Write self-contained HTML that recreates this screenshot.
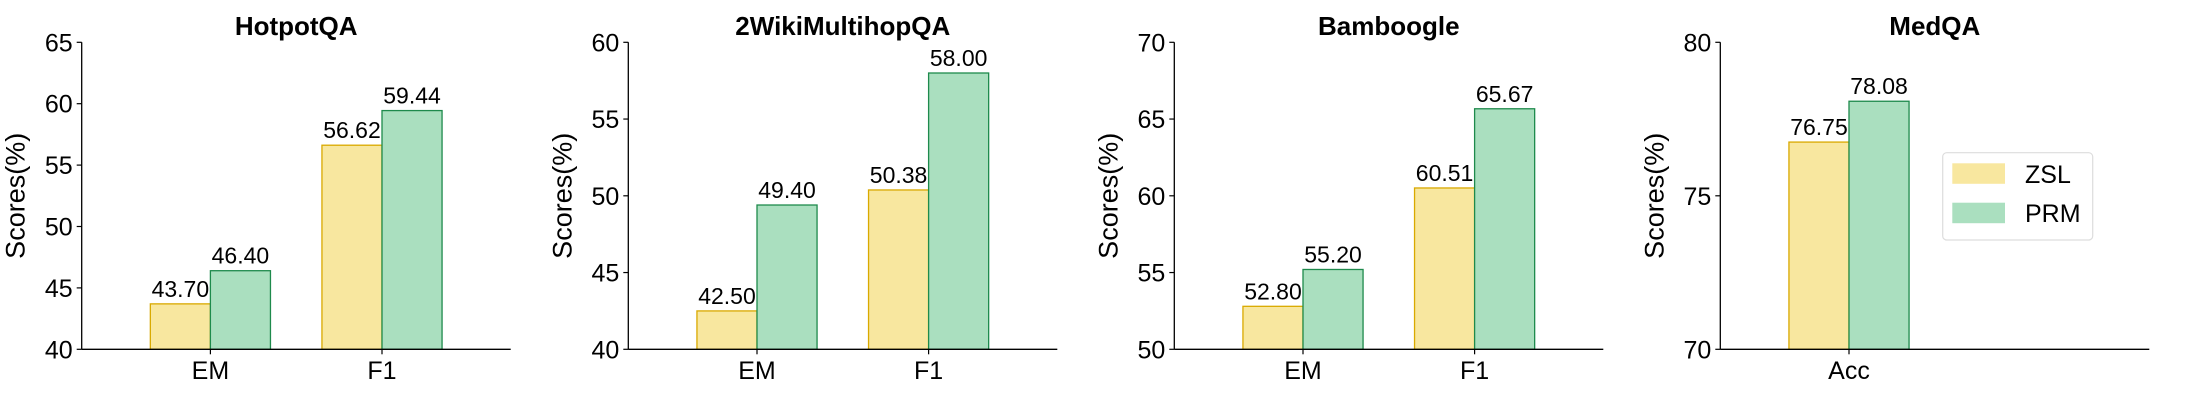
<!DOCTYPE html>
<html><head><meta charset="utf-8"><style>
html,body{margin:0;padding:0;background:#fff;}
svg{display:block;font-family:"Liberation Sans",Arial,sans-serif;}
</style></head><body>
<svg id="chart" width="2200" height="400" viewBox="0 0 2200 400" xmlns="http://www.w3.org/2000/svg"></svg>
<script>
const titles = ["HotpotQA","2WikiMultihopQA","Bamboogle","MedQA"];
const categories = [["EM","F1"],["EM","F1"],["EM","F1"],["Acc"]];
const zslValues = [[43.70,56.62],[42.50,50.38],[52.80,60.51],[76.75]];
const prmValues = [[46.40,59.44],[49.40,58.00],[55.20,65.67],[78.08]];
const yMins = [40,40,50,70];
const yMaxs = [65,60,70,80];
const yTicks = [[40,45,50,55,60,65],[40,45,50,55,60],[50,55,60,65,70],[70,75,80]];
const seriesNames = ["ZSL","PRM"];

(function(){
const NS="http://www.w3.org/2000/svg";
const svg=document.getElementById('chart');
function mk(tag,attrs,parent){const e=document.createElementNS(NS,tag);for(const k in attrs)e.setAttribute(k,attrs[k]);(parent||svg).appendChild(e);return e;}
const axLefts=[81.7,628.3,1174.3,1720.3];
const axW=429, axTop=42.3, axBottom=349.3;
const fills=["#F8E79F","#AADFBF"], strokes=["#D9A900","#1E8A4C"];
const bw=0.35;
for(let p=0;p<4;p++){
  const L=axLefts[p];
  const g=mk('g',{});
  
  
  const x=v=>L+(v+0.75)/2.5*axW;
  const y=v=>axBottom-(v-yMins[p])/(yMaxs[p]-yMins[p])*(axBottom-axTop);
  const t=mk('text',{x:L+axW/2,y:35,'text-anchor':'middle','font-size':26,'font-weight':'bold',fill:'#000'},g);
  t.textContent=titles[p];
  
  
  const yl=mk('text',{x:0,y:0,'text-anchor':'middle','font-size':27,fill:'#000',transform:`translate(${L-57},${(axTop+axBottom)/2}) rotate(-90)`},g);
  yl.textContent="Scores(%)";
  
  
  const series=[zslValues[p],prmValues[p]];
  for(let s=0;s<2;s++){
    for(let i=0;i<categories[p].length;i++){
      const v=series[s][i];
      const cx=i+(s===0?-bw/2:bw/2);
      const x0=x(cx-bw/2), x1=x(cx+bw/2);
      const r=mk('rect',{x:x0,y:y(v),width:x1-x0,height:axBottom-y(v),fill:fills[s],stroke:strokes[s],'stroke-width':1.3},g);
      
      
      const lt=mk('text',{x:(x0+x1)/2,y:y(v)-7,'text-anchor':'middle','font-size':23,fill:'#000'},g);
      lt.textContent=v.toFixed(2);
      
      
    }
  }
  const ya=mk('line',{x1:L,y1:axTop,x2:L,y2:axBottom,stroke:'#000','stroke-width':1.3},g);
  
  
  const xa=mk('line',{x1:L,y1:axBottom,x2:L+axW,y2:axBottom,stroke:'#000','stroke-width':1.3},g);
  
  
  for(const tv of yTicks[p]){
    mk('line',{x1:L-5,y1:y(tv),x2:L,y2:y(tv),stroke:'#000','stroke-width':1.2},g);
    const tl=mk('text',{x:L-9,y:y(tv)+9,'text-anchor':'end','font-size':25,fill:'#000'},g);
    tl.textContent=tv;
    
    
  }
  categories[p].forEach((c,i)=>{
    mk('line',{x1:x(i),y1:axBottom,x2:x(i),y2:axBottom+5,stroke:'#000','stroke-width':1.2},g);
    const xl=mk('text',{x:x(i),y:379,'text-anchor':'middle','font-size':25,fill:'#000'},g);
    xl.textContent=c;
    
    
  });
}
const lg=mk('g',{});


mk('rect',{x:1942.7,y:152.7,width:150,height:87.3,rx:4,fill:'#fff',stroke:'#ddd','stroke-width':1.2},lg);
seriesNames.forEach((n,s)=>{
  const py=[163.3,202.7][s];
  const pr=mk('rect',{x:1952.3,y:py,width:52.7,height:20.5,fill:fills[s]},lg);
  
  
  const lt=mk('text',{x:2025,y:py+19.5,'font-size':25,fill:'#000'},lg);
  lt.textContent=n;
  
  
});
})();
</script>
</body></html>
